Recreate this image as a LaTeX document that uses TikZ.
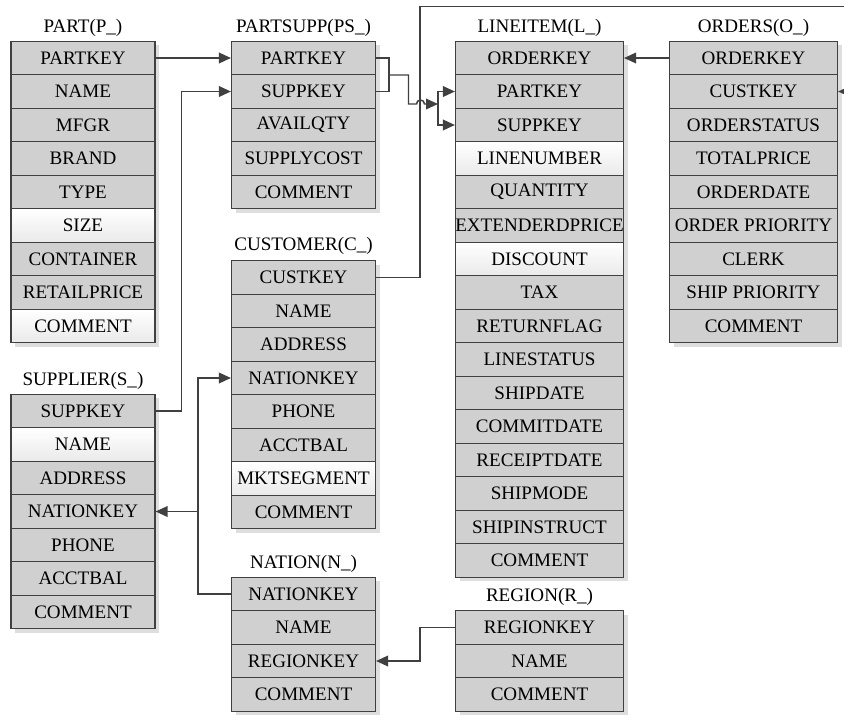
\documentclass[tikz,border=0pt]{standalone}
\usepackage{fontspec}
\setmainfont{Liberation Serif}
\usetikzlibrary{arrows.meta}
\definecolor{rowgray}{RGB}{208,208,208}
\definecolor{linegray}{RGB}{64,64,64}
\definecolor{shadegray}{RGB}{222,222,222}

\begin{document}
\begin{tikzpicture}[x=0.75pt,y=0.75pt,yscale=-1,xscale=1,
  field/.style={draw=linegray,line width=0.85pt,fill=rowgray,minimum height=25.125pt,inner sep=0pt,font=\fontsize{14.3}{16}\selectfont},
  narrow/.style={field,minimum width=108pt},
  wide/.style={field,minimum width=126pt},
  blank/.style={top color=white,bottom color=rowgray!45},
  title/.style={inner sep=0.75pt,font=\fontsize{14.3}{16}\selectfont},
  link/.style={draw=linegray,line width=1.1pt,-{Triangle[length=9pt,width=8pt]}},
  plain/.style={draw=linegray,line width=1.1pt}]
\useasboundingbox (0,0) rectangle (844,715);

%Shape: Shadows
\fill[shadegray] (15,45.25) rectangle (159,347.25);
\fill[shadegray] (235.5,45.25) rectangle (379.5,212.75);
\fill[shadegray] (459.5,45.25) rectangle (627.5,581.25);
\fill[shadegray] (673.5,45.25) rectangle (841.5,347.25);
\fill[shadegray] (235.5,264.75) rectangle (379.5,532.75);
\fill[shadegray] (15,398.25) rectangle (159,632.75);
\fill[shadegray] (235.5,581.25) rectangle (379.5,715.25);
\fill[shadegray] (459.5,614.75) rectangle (627.5,715.25);

% Text Node: PART
\node[title] (part-t) at (83,28) {PART(P\_)};
\node[narrow] (part-partkey) at (83,58) {PARTKEY};
\node[narrow] (part-name) at (83,91.5) {NAME};
\node[narrow] (part-mfgr) at (83,125) {MFGR};
\node[narrow] (part-brand) at (83,158.5) {BRAND};
\node[narrow] (part-type) at (83,192) {TYPE};
\node[narrow,blank] (part-size) at (83,225.5) {SIZE};
\node[narrow] (part-container) at (83,259) {CONTAINER};
\node[narrow] (part-retailprice) at (83,292.5) {RETAILPRICE};
\node[narrow,blank] (part-comment) at (83,326) {COMMENT};

% Text Node: PARTSUPP
\node[title] (ps-t) at (303.5,28) {PARTSUPP(PS\_)};
\node[narrow] (ps-partkey) at (303.5,58) {PARTKEY};
\node[narrow] (ps-suppkey) at (303.5,91.5) {SUPPKEY};
\node[narrow] (ps-availqty) at (303.5,125) {AVAILQTY};
\node[narrow] (ps-supplycost) at (303.5,158.5) {SUPPLYCOST};
\node[narrow] (ps-comment) at (303.5,192) {COMMENT};

% Text Node: LINEITEM
\node[title] (li-t) at (539.5,28) {LINEITEM(L\_)};
\node[wide] (li-orderkey) at (539.5,58) {ORDERKEY};
\node[wide] (li-partkey) at (539.5,91.5) {PARTKEY};
\node[wide] (li-suppkey) at (539.5,125) {SUPPKEY};
\node[wide,blank] (li-linenumber) at (539.5,158.5) {LINENUMBER};
\node[wide] (li-quantity) at (539.5,192) {QUANTITY};
\node[wide] (li-extprice) at (539.5,225.5) {EXTENDERDPRICE};
\node[wide,blank] (li-discount) at (539.5,259) {DISCOUNT};
\node[wide] (li-tax) at (539.5,292.5) {TAX};
\node[wide] (li-returnflag) at (539.5,326) {RETURNFLAG};
\node[wide] (li-linestatus) at (539.5,359.5) {LINESTATUS};
\node[wide] (li-shipdate) at (539.5,393) {SHIPDATE};
\node[wide] (li-commitdate) at (539.5,426.5) {COMMITDATE};
\node[wide] (li-receiptdate) at (539.5,460) {RECEIPTDATE};
\node[wide] (li-shipmode) at (539.5,493.5) {SHIPMODE};
\node[wide] (li-shipinstruct) at (539.5,527) {SHIPINSTRUCT};
\node[wide] (li-comment) at (539.5,560.5) {COMMENT};

% Text Node: ORDERS
\node[title] (ord-t) at (753.5,28) {ORDERS(O\_)};
\node[wide] (ord-orderkey) at (753.5,58) {ORDERKEY};
\node[wide] (ord-custkey) at (753.5,91.5) {CUSTKEY};
\node[wide] (ord-orderstatus) at (753.5,125) {ORDERSTATUS};
\node[wide] (ord-totalprice) at (753.5,158.5) {TOTALPRICE};
\node[wide] (ord-orderdate) at (753.5,192) {ORDERDATE};
\node[wide] (ord-orderprio) at (753.5,225.5) {ORDER PRIORITY};
\node[wide] (ord-clerk) at (753.5,259) {CLERK};
\node[wide] (ord-shipprio) at (753.5,292.5) {SHIP PRIORITY};
\node[wide] (ord-comment) at (753.5,326) {COMMENT};

% Text Node: CUSTOMER
\node[title] (cus-t) at (303.5,246) {CUSTOMER(C\_)};
\node[narrow] (cus-custkey) at (303.5,277.5) {CUSTKEY};
\node[narrow] (cus-name) at (303.5,311) {NAME};
\node[narrow] (cus-address) at (303.5,344.5) {ADDRESS};
\node[narrow] (cus-nationkey) at (303.5,378) {NATIONKEY};
\node[narrow] (cus-phone) at (303.5,411.5) {PHONE};
\node[narrow] (cus-acctbal) at (303.5,445) {ACCTBAL};
\node[narrow,blank] (cus-mktsegment) at (303.5,478.5) {MKTSEGMENT};
\node[narrow] (cus-comment) at (303.5,512) {COMMENT};

% Text Node: SUPPLIER
\node[title] (sup-t) at (83,381) {SUPPLIER(S\_)};
\node[narrow] (sup-suppkey) at (83,411) {SUPPKEY};
\node[narrow,blank] (sup-name) at (83,444.5) {NAME};
\node[narrow] (sup-address) at (83,478) {ADDRESS};
\node[narrow] (sup-nationkey) at (83,511.5) {NATIONKEY};
\node[narrow] (sup-phone) at (83,545) {PHONE};
\node[narrow] (sup-acctbal) at (83,578.5) {ACCTBAL};
\node[narrow] (sup-comment) at (83,612) {COMMENT};

% Text Node: NATION
\node[title] (nat-t) at (303.5,564) {NATION(N\_)};
\node[narrow] (nat-nationkey) at (303.5,594) {NATIONKEY};
\node[narrow] (nat-name) at (303.5,627.5) {NAME};
\node[narrow] (nat-regionkey) at (303.5,661) {REGIONKEY};
\node[narrow] (nat-comment) at (303.5,694.5) {COMMENT};

% Text Node: REGION
\node[title] (reg-t) at (539.5,597) {REGION(R\_)};
\node[wide] (reg-regionkey) at (539.5,627.5) {REGIONKEY};
\node[wide] (reg-name) at (539.5,661) {NAME};
\node[wide] (reg-comment) at (539.5,694.5) {COMMENT};

%Straight Lines: keys
\coordinate (ps-fk) at (388.5,75);
\coordinate (li-fk) at (438,104);
\coordinate (edge-l) at (420,6.5);
\coordinate (edge-r) at (847,6.5);
\coordinate (nk) at (198,511.5);

\draw[link] (part-partkey.east) -- (ps-partkey.west);
\draw[link] (sup-suppkey.east) -- ++(26,0) |- (ps-suppkey.west);
\draw[plain] (ps-partkey.east) -- ++(13,0) |- (ps-suppkey.east);
\draw[link] (ps-fk) -- ++(20,0) -- ++(0,29) -- ++(8,0) arc[start angle=180,end angle=360,radius=4] -- (li-fk);
\draw[link] (li-fk) |- (li-partkey.west);
\draw[link] (li-fk) |- (li-suppkey.west);
\draw[link] (cus-custkey.east) -| (edge-l) -- (edge-r) |- (ord-custkey.east);
\draw[link] (ord-orderkey.west) -- (li-orderkey.east);
\draw[link] (nat-nationkey.west) -| (nk) |- (cus-nationkey.west);
\draw[link] (nk) -- (sup-nationkey.east);
\draw[link] (reg-regionkey.west) -- ++(-35,0) |- (nat-regionkey.east);

\end{tikzpicture}
\end{document}
